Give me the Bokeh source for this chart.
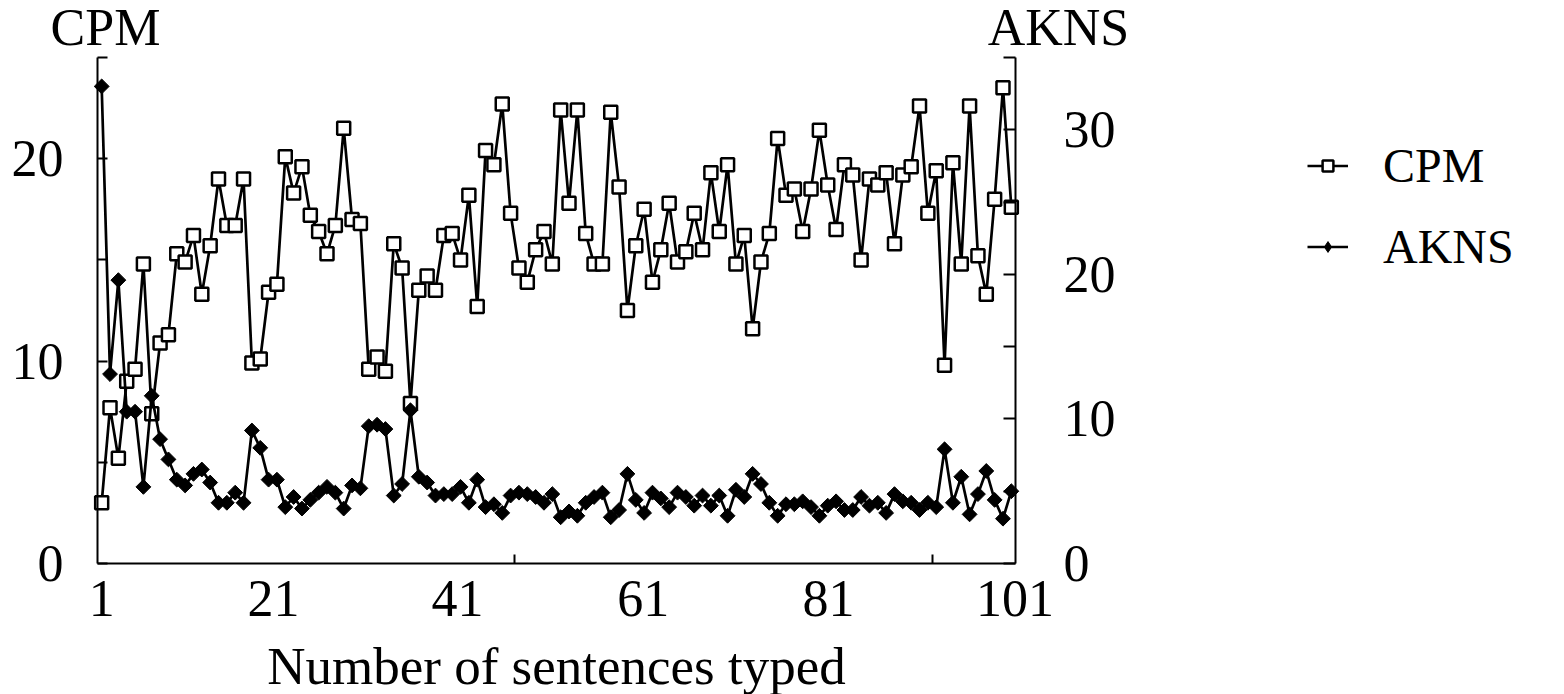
from bokeh.plotting import figure
from bokeh.models import (Range1d, LinearAxis, FixedTicker, Legend, LegendItem,
                          Label, ColumnDataSource)
from bokeh.embed import file_html
from bokeh.resources import INLINE

# ---------------- data ----------------
sentence = list(range(1, 111))

cpm = [3.0, 7.7, 5.2, 9.0, 9.6, 14.8, 7.4, 10.9, 11.3, 15.3,
       14.9, 16.2, 13.3, 15.7, 19.0, 16.7, 16.7, 19.0, 9.9, 10.1,
       13.4, 13.8, 20.1, 18.3, 19.6, 17.2, 16.4, 15.3, 16.7, 21.5,
       17.0, 16.8, 9.6, 10.2, 9.5, 15.8, 14.6, 7.9, 13.5, 14.2,
       13.5, 16.2, 16.3, 15.0, 18.2, 12.7, 20.4, 19.7, 22.7, 17.3,
       14.6, 13.9, 15.5, 16.4, 14.8, 22.4, 17.8, 22.4, 16.3, 14.8,
       14.8, 22.3, 18.6, 12.5, 15.7, 17.5, 13.9, 15.5, 17.8, 14.9,
       15.4, 17.3, 15.5, 19.3, 16.4, 19.7, 14.8, 16.2, 11.6, 14.9,
       16.3, 21.0, 18.2, 18.5, 16.4, 18.5, 21.4, 18.7, 16.5, 19.7,
       19.2, 15.0, 19.0, 18.7, 19.3, 15.8, 19.2, 19.6, 22.6, 17.3,
       19.4, 9.8, 19.8, 14.8, 22.6, 15.2, 13.3, 18.0, 23.5, 17.6]

akns = [33.0, 13.1, 19.6, 10.5, 10.5, 5.3, 11.6, 8.6, 7.2, 5.8,
        5.4, 6.2, 6.5, 5.6, 4.2, 4.2, 4.9, 4.2, 9.2, 8.0,
        5.8, 5.8, 3.9, 4.6, 3.8, 4.4, 4.9, 5.3, 4.9, 3.8,
        5.4, 5.2, 9.5, 9.6, 9.3, 4.7, 5.5, 10.6, 6.0, 5.6,
        4.7, 4.8, 4.8, 5.3, 4.2, 5.8, 3.9, 4.1, 3.5, 4.7,
        4.9, 4.8, 4.6, 4.2, 4.8, 3.2, 3.6, 3.3, 4.2, 4.6,
        4.9, 3.2, 3.7, 6.2, 4.4, 3.5, 4.9, 4.5, 3.9, 4.9,
        4.6, 4.0, 4.7, 4.0, 4.7, 3.3, 5.1, 4.6, 6.2, 5.5,
        4.2, 3.3, 4.1, 4.1, 4.3, 3.9, 3.3, 4.0, 4.3, 3.7,
        3.7, 4.6, 4.0, 4.2, 3.5, 4.8, 4.3, 4.2, 3.7, 4.2,
        3.9, 7.9, 4.2, 6.0, 3.4, 4.8, 6.4, 4.4, 3.1, 5.0]

x_tick_labels = ["1", "21", "41", "61", "81", "101"]
cpm_tick_values = [0, 10, 20]
akns_tick_values = [0, 10, 20, 30]

FONT = "Liberation Serif"
FS = "52px"

# ---------------- geometry (pixels) ----------------
W, H = 1564, 694
AX_L, AX_R, AX_T, AX_B = 97, 1015, 57, 563      # plotting box drawn by the axes
X0, X1 = 0.5, 110.5                              # category span of the x axis
CPM_MAX, AKNS_MAX = 25, 35

kx = (AX_R - AX_L) / (X1 - X0)
x_range = Range1d(X0 - AX_L / kx, X1 + (W - AX_R) / kx)
ky1 = (AX_B - AX_T) / CPM_MAX
y_range = Range1d(-(H - AX_B) / ky1, CPM_MAX + AX_T / ky1)
ky2 = (AX_B - AX_T) / AKNS_MAX
y2_range = Range1d(-(H - AX_B) / ky2, AKNS_MAX + AX_T / ky2)

p = figure(width=W, height=H, output_backend="svg", toolbar_location=None,
           x_range=x_range, y_range=y_range, min_border=0)
p.extra_y_ranges = {"akns": y2_range}
p.outline_line_color = None
p.xgrid.visible = False
p.ygrid.visible = False
p.background_fill_color = "white"
p.border_fill_color = "white"

src = ColumnDataSource(dict(x=sentence, cpm=cpm, akns=akns))

LW = 2.7
l1 = p.line("x", "cpm", source=src, line_color="black", line_width=LW)
s1 = p.scatter("x", "cpm", source=src, marker="square", size=13,
               fill_color="white", line_color="black", line_width=2.5)
l2 = p.line("x", "akns", source=src, y_range_name="akns",
            line_color="black", line_width=LW)
# diamond glyph used for the legend key; drawn beneath the (larger) rotated squares
s2_key = p.scatter("x", "akns", source=src, y_range_name="akns", marker="diamond",
                   size=9, fill_color="black", line_color="black", line_width=1)
s2 = p.scatter("x", "akns", source=src, y_range_name="akns", marker="square",
               angle=0.785398, size=10.5, fill_color="black",
               line_color="black", line_width=1)


def style_axis(ax):
    ax.axis_line_color = "black"
    ax.axis_line_width = 2
    ax.major_tick_line_color = "black"
    ax.major_tick_line_width = 2
    ax.minor_tick_line_color = "black"
    ax.minor_tick_line_width = 2
    ax.major_tick_out = 0
    ax.minor_tick_out = 0
    ax.major_label_text_font = FONT
    ax.major_label_text_font_size = FS
    ax.major_label_text_color = "black"
    ax.axis_label_text_font = FONT
    ax.axis_label_text_font_size = "53px"
    ax.axis_label_text_font_style = "normal"
    ax.axis_label_text_color = "black"


# x axis: labels placed where the original shows them, tick marks at 50.5 / 100.5
xax = p.xaxis[0]
style_axis(xax)
xax.fixed_location = 0
xax.bounds = (X0, X1)
label_pos = [1, 21.6, 43.65, 65.9, 88.1, 110.45]
xax.ticker = FixedTicker(ticks=label_pos, minor_ticks=[50.5, 100.5])
xax.major_label_overrides = {pos: lab for pos, lab in zip(label_pos, x_tick_labels)}
xax.major_tick_in = 0
xax.minor_tick_in = 9
xax.major_label_standoff = 17
xax.axis_label = "Number of sentences typed"
xax.axis_label_standoff = 18

# left axis (CPM)
yax = p.yaxis[0]
style_axis(yax)
yax.fixed_location = X0
yax.bounds = (0, CPM_MAX)
yax.ticker = FixedTicker(ticks=cpm_tick_values, minor_ticks=[5, 15, 25])
yax.major_tick_in = 10
yax.minor_tick_in = 10
yax.major_label_standoff = 34

# right axis (AKNS)
rax = LinearAxis(y_range_name="akns", fixed_location=X1, bounds=(0, AKNS_MAX))
style_axis(rax)
rax.ticker = FixedTicker(ticks=akns_tick_values, minor_ticks=[5, 15, 25, 35])
rax.major_tick_in = 12
rax.minor_tick_in = 12
rax.major_label_standoff = 48
p.add_layout(rax, "right")

# axis names written horizontally above the two value axes
p.add_layout(Label(x=X0, y=CPM_MAX, text="CPM", x_offset=8, y_offset=30,
                   text_align="center", text_baseline="alphabetic",
                   text_font=FONT, text_font_size=FS, text_color="black"))
p.add_layout(Label(x=X1, y=CPM_MAX, text="AKNS", x_offset=43, y_offset=30,
                   text_align="center", text_baseline="alphabetic",
                   text_font=FONT, text_font_size=FS, text_color="black"))

# series legend, to the right of the plot
legend = Legend(items=[LegendItem(label="CPM", renderers=[l1, s1]),
                       LegendItem(label="AKNS", renderers=[l2, s2_key])],
                location=(1307, 420), orientation="vertical",
                glyph_width=41, glyph_height=27, label_standoff=35,
                label_height=50, spacing=26, padding=0, margin=0,
                border_line_color=None, background_fill_alpha=0,
                label_text_font=FONT, label_text_font_size="48px",
                label_text_color="black")
p.add_layout(legend, "center")

open("out.html", "w").write(file_html(p, INLINE))
